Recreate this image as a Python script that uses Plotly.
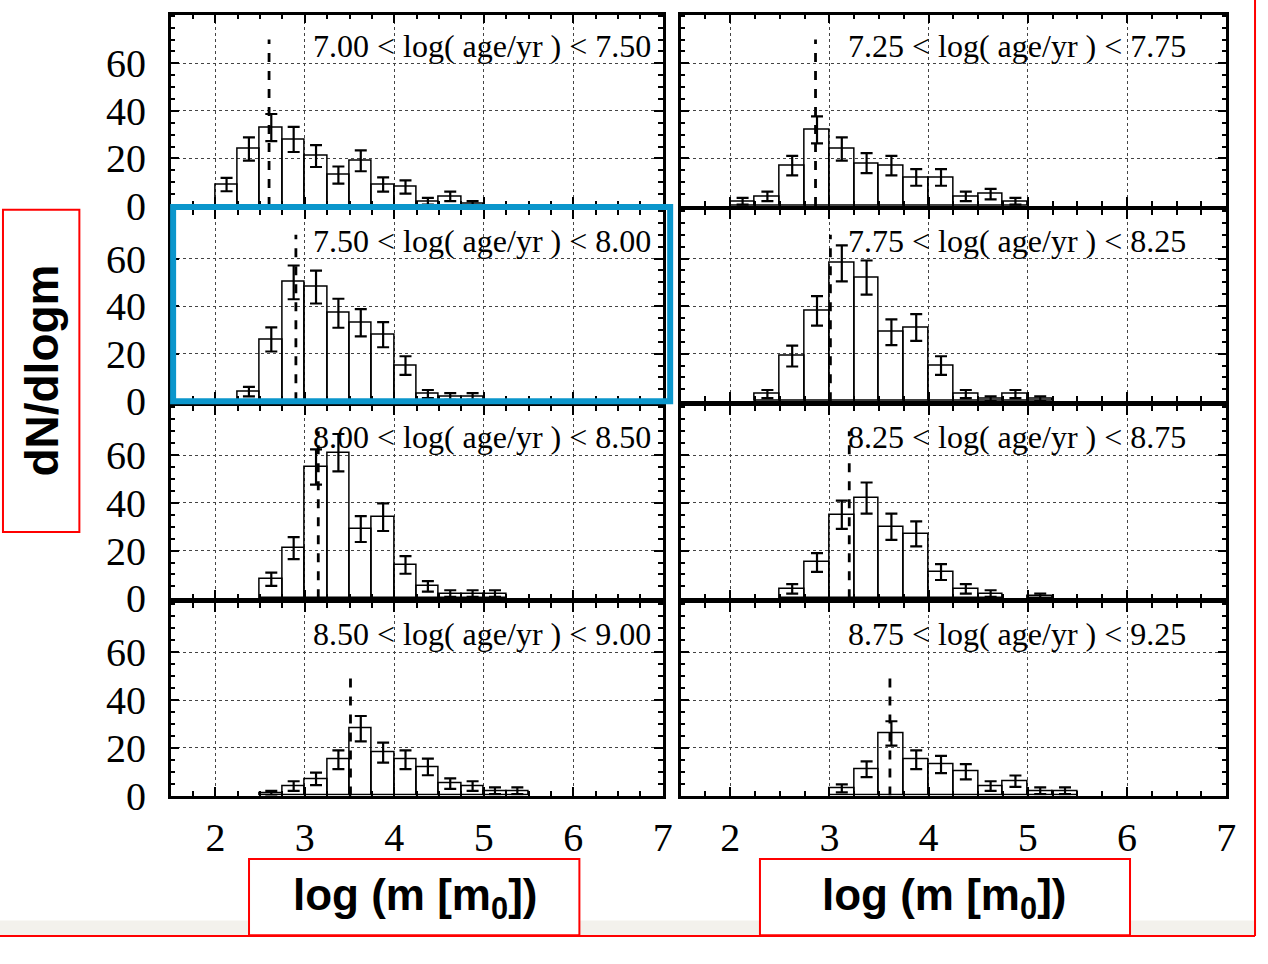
import plotly.graph_objects as go

# ---------------- data ----------------
bin_left = [2.0, 2.25, 2.5, 2.75, 3.0, 3.25, 3.5, 3.75, 4.0, 4.25, 4.5, 4.75, 5.0, 5.25]
bin_width = 0.25

age_labels = [
    "7.00 < log( age/yr ) < 7.50", "7.25 < log( age/yr ) < 7.75",
    "7.50 < log( age/yr ) < 8.00", "7.75 < log( age/yr ) < 8.25",
    "8.00 < log( age/yr ) < 8.50", "8.25 < log( age/yr ) < 8.75",
    "8.50 < log( age/yr ) < 9.00", "8.75 < log( age/yr ) < 9.25",
]

counts_p1 = [9, 24, 33, 28, 21, 13, 19, 9, 8, 2, 4, 1, 0, 0]
counts_p2 = [2, 4, 17, 32, 24, 18, 17, 12, 12, 4, 5, 2, 0, 0]
counts_p3 = [0, 4, 26, 50, 48, 37, 33, 28, 15, 3, 2, 2, 0, 0]
counts_p4 = [0, 3, 19, 38, 58, 52, 29, 31, 15, 3, 1, 3, 1, 0]
counts_p5 = [0, 0, 8, 21, 55, 61, 29, 34, 14, 5, 2, 2, 2, 0]
counts_p6 = [0, 0, 4, 15, 35, 42, 30, 27, 11, 4, 2, 0, 1, 0]
counts_p7 = [0, 0, 1, 4, 7, 15, 28, 18, 15, 12, 5, 4, 2, 2]
counts_p8 = [0, 0, 0, 0, 3, 11, 26, 15, 13, 10, 4, 6, 2, 2]

err_p1 = [2.8, 4.9, 5.7, 5.3, 4.6, 3.6, 4.4, 3.0, 2.8, 1.4, 2.0, 1.0, 0, 0]
err_p2 = [1.4, 2.0, 4.1, 5.7, 4.9, 4.2, 4.1, 3.5, 3.5, 2.0, 2.2, 1.4, 0, 0]
err_p3 = [0, 2.0, 5.1, 7.1, 6.9, 6.1, 5.7, 5.3, 3.9, 1.7, 1.4, 1.4, 0, 0]
err_p4 = [0, 1.7, 4.4, 6.2, 7.6, 7.2, 5.4, 5.6, 3.9, 1.7, 1.0, 1.7, 1.0, 0]
err_p5 = [0, 0, 2.8, 4.6, 7.4, 7.8, 5.4, 5.8, 3.7, 2.2, 1.4, 1.4, 1.4, 0]
err_p6 = [0, 0, 2.0, 3.9, 5.9, 6.5, 5.5, 5.2, 3.3, 2.0, 1.4, 0, 1.0, 0]
err_p7 = [0, 0, 1.0, 2.0, 2.6, 3.9, 5.3, 4.2, 3.9, 3.5, 2.2, 2.0, 1.4, 1.4]
err_p8 = [0, 0, 0, 0, 1.7, 3.3, 5.1, 3.9, 3.6, 3.2, 2.0, 2.4, 1.4, 1.4]

median_x = [2.60, 2.86, 2.90, 3.01, 3.15, 3.20, 3.51, 3.61]
median_top = [70, 70, 70, 70, 70, 70, 49, 49]

x_ticks = [2, 3, 4, 5, 6, 7]
y_ticks = [0, 20, 40, 60]

counts = [counts_p1, counts_p2, counts_p3, counts_p4, counts_p5, counts_p6, counts_p7, counts_p8]
errs = [err_p1, err_p2, err_p3, err_p4, err_p5, err_p6, err_p7, err_p8]

# ---------------- layout geometry ----------------
W, H = 1268, 964
col_px = [(172, 668), (686, 1236)]
row_px = [(15, 211), (215, 411), (416, 613), (618, 815)]
text_right_px = [658, 1197]

fig = go.Figure()
serif = "Liberation Serif"
sans = "Liberation Sans"

for i in range(8):
    r, c = divmod(i, 2)
    k = i + 1
    xs = [b + bin_width / 2 for b, v in zip(bin_left, counts[i]) if v > 0]
    ys = [v for v in counts[i] if v > 0]
    es = [e for e, v in zip(errs[i], counts[i]) if v > 0]
    fig.add_trace(go.Bar(
        x=xs, y=ys, width=bin_width,
        marker=dict(color="rgba(0,0,0,0)", line=dict(color="black", width=1.5)),
        error_y=dict(type="data", array=es, color="black", thickness=2.2, width=6),
        xaxis=f"x{k}", yaxis=f"y{k}", showlegend=False, hoverinfo="skip",
    ))
    x0, x1 = col_px[c]
    y0, y1 = row_px[r]
    common = dict(showline=True, linewidth=2.5, linecolor="black", mirror="allticks",
                  ticks="inside", tickcolor="black", tickwidth=1.5,
                  showgrid=True, gridcolor="#444444", griddash="dot", gridwidth=1,
                  zeroline=False, fixedrange=True)
    fig.layout[f"xaxis{k}"] = dict(
        domain=[x0 / W, x1 / W], range=[1.5, 7.0], anchor=f"y{k}",
        tickvals=x_ticks, ticklen=9,
        minor=dict(dtick=0.25, tick0=0, ticks="inside", ticklen=5, tickcolor="black", tickwidth=1.5, showgrid=False),
        showticklabels=(r == 3), ticklabelstandoff=5,
        tickfont=dict(family=serif, size=40, color="black"),
        **common)
    fig.layout[f"yaxis{k}"] = dict(
        domain=[1 - y1 / H, 1 - y0 / H], range=[0, 80.5], anchor=f"x{k}",
        tickvals=y_ticks, ticklen=9,
        minor=dict(dtick=5, tick0=0, ticks="inside", ticklen=5, tickcolor="black", tickwidth=1.5, showgrid=False),
        showticklabels=(c == 0), ticklabelstandoff=14,
        tickfont=dict(family=serif, size=40, color="black"),
        **common)
    # median line
    fig.add_shape(type="line", xref=f"x{k}", yref=f"y{k}",
                  x0=median_x[i], x1=median_x[i], y0=0, y1=median_top[i],
                  line=dict(color="black", width=2.8, dash="dash"))
    # age label
    fig.add_annotation(text=age_labels[i], xref="paper", yref="paper",
                       x=text_right_px[c] / W, y=1 - (y0 + 32) / H,
                       xanchor="right", yanchor="middle", showarrow=False,
                       font=dict(family=serif, size=32, color="black"))

# ---------------- decorations ----------------
def px_rect(x0, y0, x1, y1, color, width, fill="rgba(0,0,0,0)"):
    fig.add_shape(type="rect", xref="paper", yref="paper",
                  x0=x0 / W, x1=x1 / W, y0=1 - y0 / H, y1=1 - y1 / H,
                  line=dict(color=color, width=width), fillcolor=fill, layer="above")

def px_line(x0, y0, x1, y1, color, width):
    fig.add_shape(type="line", xref="paper", yref="paper",
                  x0=x0 / W, x1=x1 / W, y0=1 - y0 / H, y1=1 - y1 / H,
                  line=dict(color=color, width=width), layer="above")

# beige strip at bottom
fig.add_shape(type="rect", xref="paper", yref="paper", x0=0, x1=1265 / W,
              y0=1 - 958 / H, y1=1 - 943 / H, line=dict(width=0), fillcolor="#f3f1ec", layer="below")
# blue highlight box
px_rect(174.5, 212, 675.5, 411, "#0b96cc", 6)
# red frames
px_rect(3, 215, 80, 545, "red", 2, "white")
px_rect(251, 880, 584, 958, "red", 2, "white")
px_rect(766, 880, 1139, 958, "red", 2, "white")
px_line(0, 959, 1265, 959, "red", 2)
px_line(1265, 0, 1265, 959, "red", 2)

fig.add_annotation(text="<b>dN/dlogm</b>", xref="paper", yref="paper",
                   x=42 / W, y=1 - 380 / H, textangle=-90, showarrow=False,
                   xanchor="center", yanchor="middle",
                   font=dict(family=sans, size=46, color="black"))
for cx in [418, 952]:
    fig.add_annotation(text="<b>log (m [m<sub>0</sub>])</b>", xref="paper", yref="paper",
                       x=cx / W, y=1 - 920 / H, showarrow=False,
                       xanchor="center", yanchor="middle",
                       font=dict(family=sans, size=44, color="black"))

fig.update_layout(width=W, height=H, margin=dict(l=0, r=0, t=0, b=0),
                  paper_bgcolor="white", plot_bgcolor="white", bargap=0)

fig.write_html("out.html")
